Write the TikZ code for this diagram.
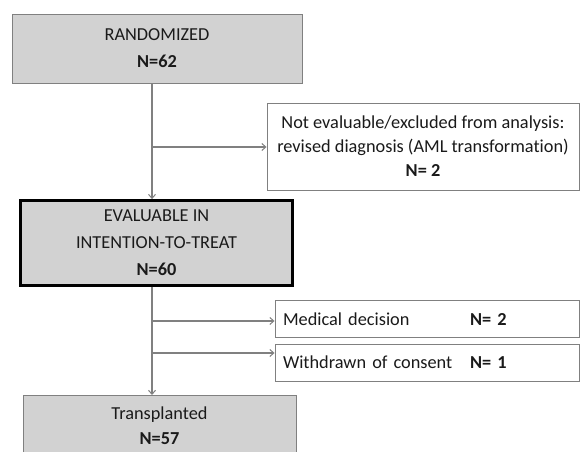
\documentclass[tikz,border=0pt]{standalone}
\usepackage{fontspec}
\setmainfont{Carlito}[Ligatures=CommonOff]
\usetikzlibrary{arrows.meta}
\definecolor{boxfill}{HTML}{D2D2D2}
\definecolor{linegray}{HTML}{808080}
\definecolor{txt}{HTML}{1A1A1A}
\begin{document}
\begin{tikzpicture}[x=1pt,y=-1pt,
  every node/.style={text=txt,font=\fontsize{18.3}{27}\selectfont},
  grayfill/.style={rectangle,fill=boxfill,draw=linegray,line width=0.8pt,align=center,inner sep=0pt},
  whitebox/.style={rectangle,fill=white,draw=linegray,line width=0.9pt,inner sep=0pt},
  flow/.style={draw=linegray,line width=1.2pt,-{Straight Barb[length=4pt,width=7pt,line width=1pt]}}
]
\useasboundingbox (0,0) rectangle (581,451);
\coordinate (t) at (152,0);

\node[grayfill,minimum width=290pt,minimum height=69pt] (rand) at (157,48.5)
  {RANDOMIZED\\\textbf{N=62}};

\node[whitebox,minimum width=312pt,minimum height=87pt,align=center,
  font=\fontsize{18.3}{24}\selectfont] (excl) at (423,146.5)
  {Not evaluable/excluded from analysis:\\revised diagnosis (AML transformation)\\\textbf{N= 2}};

\node[grayfill,draw=black,line width=2.8pt,minimum width=272pt,minimum height=85pt] (eval) at (156.5,243)
  {EVALUABLE IN\\INTENTION-TO-TREAT\\\textbf{N=60}};

\node[whitebox,minimum width=304pt,minimum height=37pt,text width=288pt,align=left] (med) at (427,319)
  {\makebox[187pt][l]{Medical decision}\textbf{N= 2}};

\node[whitebox,minimum width=304pt,minimum height=37pt,text width=288pt,align=left] (wd) at (427,362.5)
  {\makebox[187pt][l]{Withdrawn of consent}\textbf{N= 1}};

\node[grayfill,minimum width=273pt,minimum height=80pt,anchor=north] (trans) at (159.5,395) {};
\node[anchor=base] (transtxt) at (159.5,419) {Transplanted};
\node[anchor=base,font=\fontsize{18.3}{25}\selectfont\bfseries] (transn) at (159.5,444) {N=57};

\coordinate (b1) at (153,147);
\coordinate (b2) at (153,321);
\coordinate (b3) at (153,353);

\draw[flow] (rand.south -| t) -- (eval.north -| t);
\draw[flow] (eval.south -| t) -- (trans.north -| t);
\draw[flow] (b1) -- (b1 -| excl.west);
\draw[flow] (b2) -- (b2 -| med.west);
\draw[flow] (b3) -- (b3 -| wd.west);
\end{tikzpicture}
\end{document}
